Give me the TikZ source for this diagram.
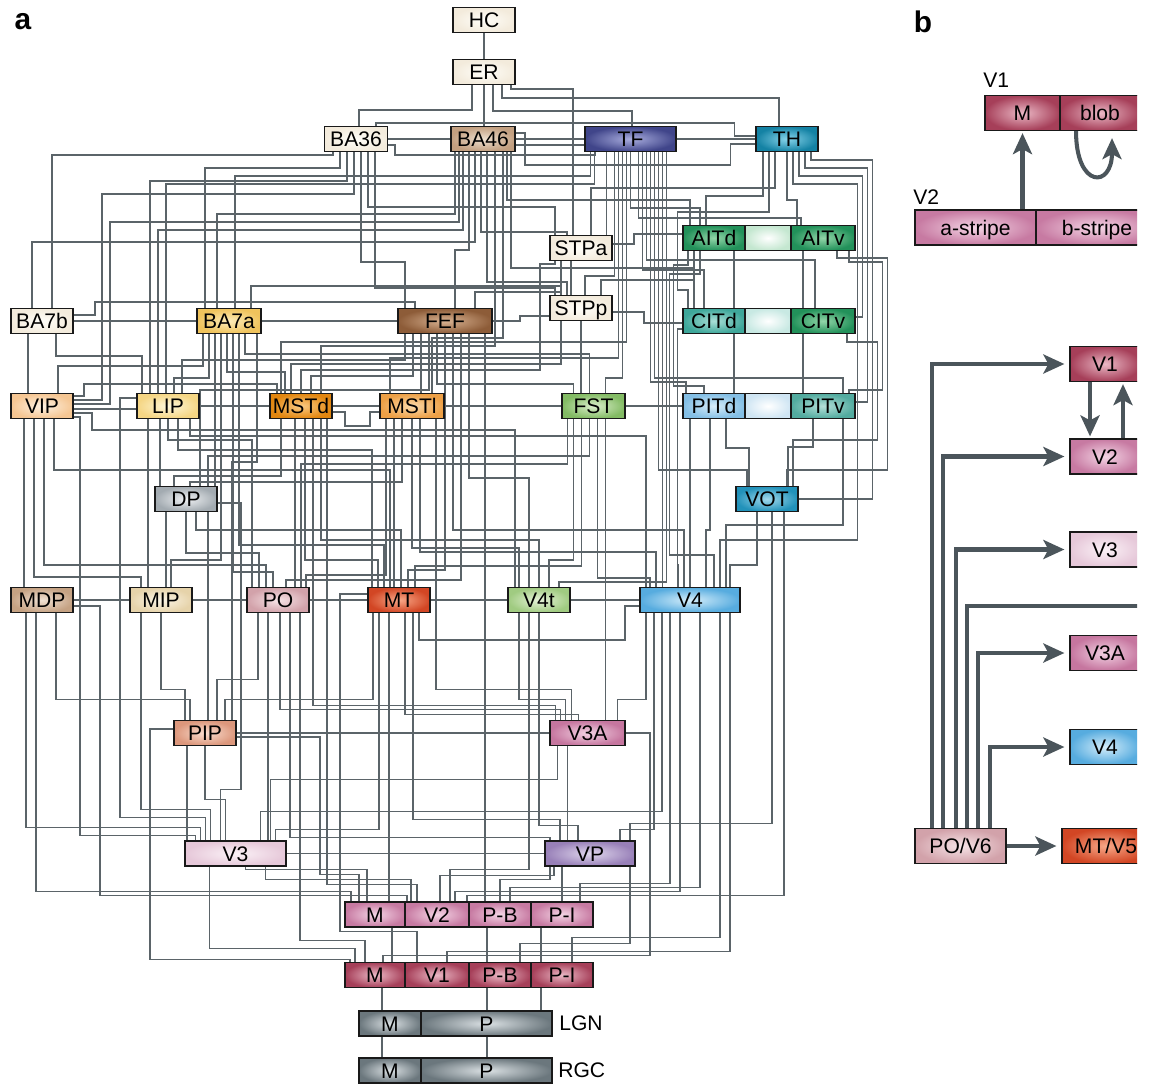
\documentclass[tikz,border=0pt]{standalone}
\usepackage{fontspec}
\setmainfont{Liberation Sans}
\usetikzlibrary{calc,arrows.meta}
\pgfdeclarelayer{bg}
\pgfsetlayers{bg,main}
\definecolor{lineC}{HTML}{5B6469}
\definecolor{arrC}{HTML}{4B555B}
\newcommand\defsh[3]{\definecolor{#1I}{HTML}{#2}\definecolor{#1O}{HTML}{#3}\tikzset{#1/.style={inner color=#1I,outer color=#1O}}}
\defsh{sCr}{FFFEF9}{F3EBDC}
\defsh{sBAf}{EEDFCF}{C29F80}
\defsh{sTF}{A9ADDE}{40458A}
\defsh{sTH}{86D3EA}{1482A4}
\defsh{sAIT}{92D6A8}{22915A}
\defsh{sAITx}{FFFFFF}{C4E7D0}
\defsh{sCITd}{AADFD7}{3EA79A}
\defsh{sCITx}{FFFFFF}{C8E9E3}
\defsh{sPITd}{D6ECF9}{84BFE5}
\defsh{sPITx}{FFFFFF}{CFE5F3}
\defsh{sPITv}{B4E0D9}{52AB9F}
\defsh{sBAs}{FDEDBA}{EFC35C}
\defsh{sFEF}{D9B393}{8D5C38}
\defsh{sVIP}{FEF2E2}{F5C693}
\defsh{sLIP}{FEF7DA}{F5D684}
\defsh{sMSTd}{F9CB85}{E2860F}
\defsh{sMSTl}{FBDAAA}{EDA046}
\defsh{sFST}{DCEFCD}{83BB64}
\defsh{sDP}{F0F2F4}{A3ABB1}
\defsh{sVOT}{A0D8EC}{2292BA}
\defsh{sMDP}{F0E2D4}{C5A283}
\defsh{sMIP}{FCF6E8}{E6D3AA}
\defsh{sPO}{F6E4E7}{D2A2AA}
\defsh{sMT}{F8A888}{D24624}
\defsh{sVft}{E6F3D9}{A0CB81}
\defsh{sVf}{D4EDFA}{57ACDF}
\defsh{sPIP}{FADDCF}{DC977C}
\defsh{sVtA}{F2D2E3}{C6769F}
\defsh{sVt}{FBF2F7}{E6C8D9}
\defsh{sVP}{DFD6EC}{9880B8}
\defsh{sVtwo}{F4D5E5}{C77AA2}
\defsh{sVone}{EBB9C6}{A63F59}
\defsh{sGr}{DBE1E4}{6B777D}
\def\pxu{0.569055pt}
% vertical - horizontal - vertical
\newcommand\cnk[5]{\draw[ln] let \p1=(#1), \p2=(#4) in ({\x1+(#2)*\pxu},\y1) |- ({\x2+(#5)*\pxu},{-(#3)*\pxu}) -- ({\x2+(#5)*\pxu},\y2);}
% horizontal - vertical - horizontal
\newcommand\cnh[5]{\draw[ln] let \p1=(#1), \p2=(#4) in (\x1,{\y1-(#2)*\pxu}) -| ({(#3)*\pxu},{\y2-(#5)*\pxu}) -- (\x2,{\y2-(#5)*\pxu});}
% horizontal - vertical - horizontal - vertical
\newcommand\cnhv[6]{\draw[ln] let \p1=(#1), \p2=(#5) in (\x1,{\y1-(#2)*\pxu}) -| ({(#3)*\pxu},{-(#4)*\pxu}) -| ({\x2+(#6)*\pxu},\y2);}
% vertical - horizontal - vertical - horizontal
\newcommand\cnvh[6]{\draw[ln] let \p1=(#1), \p2=(#5) in ({\x1+(#2)*\pxu},\y1) |- ({(#4)*\pxu},{-(#3)*\pxu}) |- (\x2,{\y2-(#6)*\pxu});}
% vertical - horizontal - vertical - horizontal - vertical
\newcommand\cnvhv[7]{\draw[ln] let \p1=(#1), \p2=(#6) in ({\x1+(#2)*\pxu},\y1) |- ({(#4)*\pxu},{-(#3)*\pxu}) |- ({\x2+(#7)*\pxu},{-(#5)*\pxu}) -- ({\x2+(#7)*\pxu},\y2);}
% horizontal - vertical - horizontal - vertical - horizontal
\newcommand\cnz[7]{\draw[ln] let \p1=(#1), \p2=(#6) in (\x1,{\y1-(#2)*\pxu}) -| ({(#3)*\pxu},{-(#4)*\pxu}) -| ({(#5)*\pxu},{\y2-(#7)*\pxu}) -- (\x2,{\y2-(#7)*\pxu});}
\tikzset{
  box/.style={draw=black!90, line width=0.7pt, minimum height=0.5cm, inner sep=0pt, text height=8.6pt, text depth=0pt, font=\fontsize{12}{12}\selectfont},
  bbox/.style={box, minimum height=0.7cm},
  bw/.style={minimum width=#1cm},
  ln/.style={draw=lineC, line width=0.7pt},
  lbl/.style={inner sep=0pt, font=\fontsize{12}{12}\selectfont},
  barr/.style={draw=arrC, line width=2.3pt, -{Stealth[length=0.42cm,width=0.38cm,inset=0.1cm]}, shorten >=0.1cm},
  bln/.style={draw=arrC, line width=2.3pt}
}
\begin{document}
\begin{tikzpicture}[x=0.02cm,y=-0.02cm]
\useasboundingbox (0,0) rectangle (1149,1088);
% ---------- panel a nodes ----------
\node[font=\bfseries\fontsize{17}{17}\selectfont] (pa) at (23,22) {a};
\node[box,bw=1.24,sCr] (HC) at (484,20) {HC};
\node[box,bw=1.24,sCr] (ER) at (484,72) {ER};
\node[box,bw=1.26,sCr] (BA36) at (356,139) {BA36};
\node[box,bw=1.28,sBAf] (BA46) at (483,139) {BA46};
\node[box,bw=1.82,sTF] (TF) at (630.5,139) {TF};
\node[box,bw=1.24,sTH] (TH) at (787,139) {TH};
\node[box,bw=1.24,sCr] (STPa) at (581,248) {STPa};
\node[box,bw=1.24,sAIT] (AITd) at (714,238) {AITd};
\node[box,bw=0.92,sAITx] (AITx) at (768,238) {};
\node[box,bw=1.28,sAIT] (AITv) at (823,238) {AITv};
\node[box,bw=1.24,sCr] (BA7b) at (42,321) {BA7b};
\node[box,bw=1.28,sBAs] (BA7a) at (229,321) {BA7a};
\node[box,bw=1.88,sFEF] (FEF) at (445,321) {FEF};
\node[box,bw=1.24,sCr] (STPp) at (581,308) {STPp};
\node[box,bw=1.24,sCITd] (CITd) at (714,321) {CITd};
\node[box,bw=0.92,sCITx] (CITx) at (768,321) {};
\node[box,bw=1.28,sAIT] (CITv) at (823,321) {CITv};
\node[box,bw=1.24,sVIP] (VIP) at (42,406) {VIP};
\node[box,bw=1.24,sLIP] (LIP) at (168,406) {LIP};
\node[box,bw=1.24,sMSTd] (MSTd) at (301,406) {MSTd};
\node[box,bw=1.28,sMSTl] (MSTl) at (412,406) {MSTl};
\node[box,bw=1.26,sFST] (FST) at (593.5,406) {FST};
\node[box,bw=1.24,sPITd] (PITd) at (714,406) {PITd};
\node[box,bw=0.92,sPITx] (PITx) at (768,406) {};
\node[box,bw=1.28,sPITv] (PITv) at (823,406) {PITv};
\node[box,bw=1.24,sDP] (DP) at (186,499) {DP};
\node[box,bw=1.24,sVOT] (VOT) at (767,499) {VOT};
\node[box,bw=1.24,sMDP] (MDP) at (42,600) {MDP};
\node[box,bw=1.24,sMIP] (MIP) at (161,600) {MIP};
\node[box,bw=1.24,sPO] (PO) at (278,600) {PO};
\node[box,bw=1.24,sMT] (MT) at (399,600) {MT};
\node[box,bw=1.24,sVft] (V4t) at (539,600) {V4t};
\node[box,bw=2.0,sVf] (V4) at (690,600) {V4};
\node[box,bw=1.24,sPIP] (PIP) at (205,733) {PIP};
\node[box,bw=1.5,sVtA] (V3A) at (587.5,733) {V3A};
\node[box,bw=2.02,sVt] (V3) at (235.5,853.5) {V3};
\node[box,bw=1.8,sVP] (VP) at (590,853.5) {VP};
\node[box,bw=1.2,sVtwo] (V2M) at (375,914.5) {M};
\node[box,bw=1.28,sVtwo] (V2) at (437,914.5) {V2};
\node[box,bw=1.24,sVtwo] (V2PB) at (500,914.5) {P-B};
\node[box,bw=1.24,sVtwo] (V2PI) at (562,914.5) {P-I};
\node[box,bw=1.2,sVone] (V1M) at (375,975) {M};
\node[box,bw=1.28,sVone] (V1) at (437,975) {V1};
\node[box,bw=1.24,sVone] (V1PB) at (500,975) {P-B};
\node[box,bw=1.24,sVone] (V1PI) at (562,975) {P-I};
\node[box,bw=1.24,sGr] (LM) at (390,1023.5) {M};
\node[box,bw=2.62,sGr] (LP) at (486.5,1023.5) {P};
\node[box,bw=1.24,sGr] (RM) at (390,1070.5) {M};
\node[box,bw=2.62,sGr] (RP) at (486.5,1070.5) {P};
\node[lbl,anchor=west] (tLGN) at (559,1023.5) {LGN};
\node[lbl,anchor=west] (tRGC) at (558,1070.5) {RGC};
% ---------- panel a connectors ----------
\begin{pgfonlayer}{bg}
\fill[white] (0,0) rectangle (1149,1088);
\draw[ln] (HC) -- (ER);
\cnk{ER}{0}{100}{BA46}{1}
\cnk{ER}{-12}{110}{BA36}{3}
\cnk{ER}{9}{111}{TF}{1.5}
\cnk{ER}{18}{98}{TH}{-8}
\cnk{ER}{27}{89}{STPa}{-8}
% BA36
\draw[ln] (BA36) -- (BA46);
\cnvh{BA36}{20}{123}{735}{TH}{-3}
\cnhv{BA36}{6}{395}{155}{TF}{-35}
\cnk{BA36}{-23}{155}{BA7b}{10}
\cnk{BA36}{-16}{168}{BA7a}{-24}
\cnk{BA36}{-9}{181}{LIP}{-18}
\cnvh{BA36}{-2}{194}{102}{VIP}{-6}
\cnk{BA36}{5}{262}{FEF}{-40}
\cnk{BA36}{12}{207}{STPa}{-26}
\cnk{BA36}{19}{288}{STPp}{-26}
% BA46
\draw[ln] (BA46) -- (TF);
\cnh{BA46}{6}{545}{TF}{6}
\cnz{BA46}{-6}{525}{165}{731}{TH}{5}
\cnk{BA46}{-28}{214}{BA7a}{-12}
\cnvh{BA46}{-24}{222}{110}{VIP}{-2}
\cnk{BA46}{-20}{230}{LIP}{-10}
\cnk{BA46}{-14}{250}{FEF}{10}
\cnk{BA46}{-8}{242}{BA7b}{-10}
\cnk{BA46}{-2}{232}{STPa}{-14}
\cnk{BA46}{4}{282}{STPp}{-14}
\cnk{BA46}{12}{346}{MSTd}{20}
\cnk{BA46}{20}{338}{MSTl}{20}
\cnk{BA46}{24}{200}{AITd}{-24}
\cnk{BA46}{28}{268}{CITd}{-20}
% TF
\draw[ln] (TF) -- (TH);
\cnk{TF}{-40}{176}{BA7a}{6}
\cnk{TF}{-36}{184}{LIP}{-2}
\cnk{TF}{-24}{240}{STPa}{25.5}
\cnk{TF}{-16}{276}{STPp}{4}
\cnk{TF}{-12}{358}{MSTl}{-22}
\cnk{TF}{-8}{378}{FST}{12}
\cnk{TF}{-4}{342}{MSTd}{-20}
\cnk{TF}{0}{208}{AITd}{-14}
\cnk{TF}{8}{218}{AITv}{-22}
\cnk{TF}{12}{270}{CITd}{-10}
\cnk{TF}{16}{260}{CITv}{-8}
\cnk{TF}{20}{382}{PITd}{-28}
\cnk{TF}{24}{378}{PITv}{20}
\cnk{TF}{28}{470}{VOT}{-20}
\cnk{TF}{32}{560}{V4}{-27.5}
\cnk{TF}{36}{582}{V4t}{20}
% TH
\cnk{TH}{-24}{196}{AITd}{-8}
\cnk{TH}{-12}{188}{STPa}{10}
\cnvhv{TH}{-18}{212}{678}{290}{CITd}{-26}
\cnk{TH}{0}{200}{AITv}{-26}
\cnvhv{TH}{6}{184}{858}{540}{V4}{30}
\cnvh{TH}{12}{176}{863}{CITv}{-4}
\cnvh{TH}{18}{168}{868}{PITv}{-4}
\cnvh{TH}{24}{160}{873}{VOT}{0}
% STPa
\cnk{STPa}{-10}{270}{STPp}{-10}
\cnk{STPa}{-20}{292}{FEF}{30}
\cnh{STPa}{-4}{634}{AITd}{-4}
\cnvhv{STPa}{-26}{264}{540}{370}{MSTd}{0}
% AIT, CIT, PIT
\cnk{AITd}{-20}{280}{STPp}{20}
\cnk{AITd}{20}{270}{CITd}{20}
\cnk{AITv}{-20}{270}{CITv}{-20}
\cnvhv{AITd}{-26}{265}{674}{386}{PITd}{-10}
\cnvhv{AITv}{26}{262}{883}{390}{PITv}{26}
\cnvhv{AITd}{-14}{274}{670}{555}{V4}{24}
\cnvhv{AITv}{14}{258}{888}{470}{VOT}{20}
\cnk{CITd}{20}{360}{PITd}{20}
\cnk{CITv}{-20}{360}{PITv}{-20}
\cnhv{CITd}{8}{678}{565}{V4}{-12}
\cnh{CITd}{2}{644}{STPp}{4}
\cnvhv{CITv}{24}{342}{878}{440}{VOT}{26}
\cnk{PITd}{12}{448}{VOT}{-18}
\cnk{PITv}{-10}{447}{VOT}{21}
\cnk{PITd}{-24}{540}{V4}{0}
\cnk{PITd}{-4}{530}{V4}{16}
\cnk{PITv}{20}{525}{V4}{36}
\draw[ln] (FST) -- (PITd);
% VOT
\cnk{VOT}{-10}{565}{V4}{40}
\cnk{VOT}{5}{824}{VP}{40}
\cnk{VOT}{17}{896}{V2}{30}
% STPp
\cnk{STPp}{-20}{364}{MSTd}{-10}
\cnk{STPp}{0}{380}{FST}{-12.5}
% FEF
\draw[ln] (BA7a) -- (FEF);
\cnh{FEF}{0}{520}{STPp}{8}
\cnk{FEF}{-40}{360}{LIP}{14}
\cnk{FEF}{-32}{376}{MSTd}{10}
\cnk{FEF}{-24}{390}{MSTl}{9}
\cnk{FEF}{-16}{390}{DP}{14}
\cnk{FEF}{-8}{384}{FST}{-20}
\cnk{FEF}{0}{570}{MT}{9}
\cnk{FEF}{8}{530}{V4}{-6}
\cnk{FEF}{16}{580}{PO}{8}
\cnk{FEF}{24}{478}{V4t}{-10}
\cnk{FEF}{40}{890}{V2PB}{-15}
% BA7b
\draw[ln] (BA7b) -- (BA7a);
\cnhv{BA7b}{-6}{95}{302}{FEF}{-30}
\cnk{BA7b}{-14}{380}{VIP}{-14}
\cnk{BA7b}{14}{356}{LIP}{-26}
% BA7a
\cnk{BA7a}{-26}{366}{VIP}{16}
\cnk{BA7a}{-20}{378}{LIP}{6}
\cnk{BA7a}{-14}{450}{DP}{29}
\cnk{BA7a}{-8}{560}{MIP}{10}
\cnk{BA7a}{-2}{372}{MSTd}{-16}
\cnk{BA7a}{4}{572}{PO}{-5}
\cnk{BA7a}{10}{545}{MT}{-15}
\cnk{BA7a}{16}{354}{FST}{-4}
\cnk{BA7a}{22}{286}{STPp}{-20}
\cnk{BA7a}{28}{462}{PIP}{27}
% LIP
\cnh{VIP}{3}{120}{LIP}{3}
\draw[ln] (LIP) -- (MSTd);
\cnk{LIP}{-20}{560}{MIP}{-13}
\cnk{LIP}{-8}{460}{DP}{-26}
\cnk{LIP}{0}{440}{PO}{-26}
\cnk{LIP}{10}{450}{MT}{-27}
\cnk{LIP}{22}{436}{V4}{-44}
\cnhv{LIP}{-8}{120}{818}{V3}{-30}
% VIP
\cnk{VIP}{-18}{500}{MDP}{-18}
\cnk{VIP}{-8}{577}{MIP}{-20}
\cnk{VIP}{2}{565}{PO}{-12}
\cnk{VIP}{12}{470}{MT}{-9}
\cnhv{VIP}{-10}{84}{384}{MSTd}{-24}
\cnhv{VIP}{7}{92}{430}{V4t}{-24}
\cnhv{VIP}{11}{80}{836}{V3}{-40}
% MSTd
\draw[ln] (MSTd) -- (MSTl);
\cnz{MSTd}{6}{345}{426}{370}{MSTl}{6}
\cnk{MSTd}{-20}{476}{DP}{-12}
\cnk{MSTd}{-6}{500}{PO}{17}
\cnk{MSTd}{4}{560}{MT}{-21}
\cnk{MSTd}{12}{706}{V3A}{-32}
\cnk{MSTd}{20}{540}{V4t}{0}
\cnk{MSTd}{26}{885}{V2}{-20}
% MSTl
\draw[ln] (MSTl) -- (FST);
\cnk{MSTl}{-18}{560}{MT}{-5}
\cnk{MSTl}{-10}{482}{DP}{4}
\cnk{MSTl}{0}{548}{V4t}{-20}
\cnk{MSTl}{8}{552}{V4}{-34}
\cnk{MSTl}{24}{690}{V3A}{-16}
\cnk{MSTl}{-26}{575}{PO}{28}
% FST
\cnk{FST}{-20}{560}{V4t}{10}
\cnk{FST}{-12}{566}{MT}{16}
\cnk{FST}{-4}{456}{DP}{22}
\cnk{FST}{4}{578}{V4}{-40}
\cnk{FST}{12}{700}{V3A}{18}
\cnk{FST}{-26}{464}{PO}{23}
% DP
\cnk{DP}{-20}{560}{MIP}{5}
\cnk{DP}{0}{553}{PO}{-19}
\cnk{DP}{10}{530}{MT}{2}
\cnk{DP}{22}{600}{PIP}{3}
\cnhv{DP}{4}{241}{790}{V3}{-15}
% MDP, MIP, PO
\draw[ln] (MDP) -- (MIP);
\cnk{MDP}{-16}{828}{V3}{-35}
\cnk{MDP}{-6}{892}{V2M}{-24}
\cnk{MDP}{14}{700}{PIP}{-15}
\cnhv{MDP}{6}{100}{896}{V2}{-30}
\draw[ln] (MIP) -- (PO);
\cnk{MIP}{-20}{810}{V3}{-25}
\cnk{MIP}{0}{690}{PIP}{-20}
\draw[ln] (PO) -- (MT);
\cnk{PO}{-20}{680}{PIP}{12}
\cnk{PO}{-10}{820}{V3}{32.5}
\cnk{PO}{2}{710}{V3A}{-27}
\cnk{PO}{12}{838}{VP}{-40}
\cnk{PO}{22}{941}{V1M}{-10}
% MT
\draw[ln] (MT) -- (V4t);
\cnk{MT}{-20}{830}{V3}{40}
\cnk{MT}{-10}{880}{V2M}{14}
\cnk{MT}{6}{715}{V3A}{-9}
\cnk{MT}{14}{820}{VP}{-30}
\cnk{MT}{-26}{700}{PIP}{20}
\cnhv{MT}{-6}{340}{932}{V1}{-20}
\cnhv{V4}{6}{625}{640}{MT}{20}
% V4t, V4
\draw[ln] (V4t) -- (V4);
\cnk{V4t}{-20}{700}{V3A}{-22}
\cnk{V4t}{-10}{870}{V2}{13}
\cnk{V4t}{0}{826}{VP}{-12}
\cnk{V4}{-44}{700}{V3A}{30}
\cnk{V4}{-36}{830}{VP}{30}
\cnk{V4}{-28}{812}{V3}{25}
\cnk{V4}{-20}{884}{V2PI}{18}
\cnk{V4}{-10}{892}{V2}{18}
\cnk{V4}{10}{888}{V2PB}{10}
\cnk{V4}{30}{938}{V1PI}{10}
\cnk{V4}{40}{952}{V1}{10}
% V3A, PIP
\draw[ln] (PIP) -- (V3A);
\cnk{V3A}{-30}{780}{V3}{35}
\cnk{V3A}{-20}{800}{VP}{-22.5}
\cnhv{V3A}{0}{650}{956}{V1M}{8}
\cnk{PIP}{-18}{820}{V3}{-48.5}
\cnk{PIP}{0}{800}{V3}{-10}
\cnhv{PIP}{4}{320}{875}{V2M}{-16}
\cnhv{PIP}{-4}{150}{960}{V1M}{-25}
% V3, VP
\draw[ln] (V3) -- (VP);
\cnk{V3}{-26}{949}{V1M}{-20}
\cnk{V3}{10}{870}{V2M}{-8}
\cnk{V3}{30}{880}{V2}{-26}
\cnk{VP}{-28}{890}{V2PI}{0}
\cnk{VP}{-40}{880}{V2PB}{0}
\cnk{VP}{-36}{876}{V2}{3}
\cnk{VP}{40}{944}{V1PB}{20}
% V2 -> V1 -> LGN -> RGC
\cnk{V2M}{17}{945}{V1M}{17}
\cnk{V2PB}{-13}{945}{V1PB}{-13}
\cnk{V2PI}{-21}{945}{V1PI}{-21}
\cnk{V1M}{7}{1000}{LM}{-8}
\cnk{V1PB}{-13}{1000}{LP}{0.5}
\cnk{V1PI}{-21}{1000}{LP}{54.5}
\cnk{LM}{-8}{1050}{RM}{-8}
\cnk{LP}{0.5}{1050}{RP}{0.5}
\end{pgfonlayer}
% ---------- panel b ----------
\node[font=\bfseries\fontsize{17}{17}\selectfont] (pb) at (923,22) {b};
\node[lbl,anchor=west] (tV1) at (983,80) {V1};
\node[lbl,anchor=west] (tV2) at (913,197) {V2};
\begin{scope}
\clip (900,0) rectangle (1137,1088);
\node[bbox,bw=1.5,sVone] (bM) at (1022.5,113) {M};
\node[bbox,bw=1.6,sVone] (bblob) at (1100,113) {blob};
\node[bbox,bw=2.42,sVtwo] (bas) at (975.5,227.5) {a-stripe};
\node[bbox,bw=2.44,sVtwo] (bbs) at (1097,227.5) {b-stripe};
\node[bbox,bw=1.4,sVone] (cV1) at (1105,364) {V1};
\node[bbox,bw=1.4,sVtwo] (cV2) at (1105,456.5) {V2};
\node[bbox,bw=1.4,sVt] (cV3) at (1105,549.5) {V3};
\node[bbox,bw=1.4,sVtA] (cV3A) at (1105,653) {V3A};
\node[bbox,bw=1.4,sVf] (cV4) at (1105,747) {V4};
\node[bbox,bw=1.82,sPO] (cPO) at (960.5,846) {PO/V6};
\node[bbox,bw=1.76,sMT] (cMT) at (1106,846) {MT/V5};
\coordinate (rEdge) at (1160,606);
\draw[barr,shorten >=0.04cm] (bM.south |- bas.north) -- (bM.south);
\draw[barr,shorten >=0pt] ([xshift=-0.48cm]bblob.south) .. controls ([xshift=-0.48cm,yshift=-1.15cm]bblob.south) and ([xshift=0.24cm,yshift=-1.15cm]bblob.south) .. ([xshift=0.24cm,yshift=-0.14cm]bblob.south);
\draw[barr,shorten >=0.04cm] ([xshift=-0.3cm]cV1.south) -- ([xshift=-0.3cm]cV2.north);
\draw[barr,shorten >=0.04cm] ([xshift=0.36cm]cV2.north) -- ([xshift=0.36cm]cV1.south);
\draw[barr] ([xshift=-0.57cm]cPO.north) |- (cV1.west);
\draw[barr] ([xshift=-0.35cm]cPO.north) |- (cV2.west);
\draw[barr] ([xshift=-0.09cm]cPO.north) |- (cV3.west);
\draw[bln] ([xshift=0.13cm]cPO.north) |- (rEdge);
\draw[barr] ([xshift=0.35cm]cPO.north) |- (cV3A.west);
\draw[barr] ([xshift=0.59cm]cPO.north) |- (cV4.west);
\draw[barr] (cPO.east) -- (cMT.west);
\end{scope}
\end{tikzpicture}
\end{document}
